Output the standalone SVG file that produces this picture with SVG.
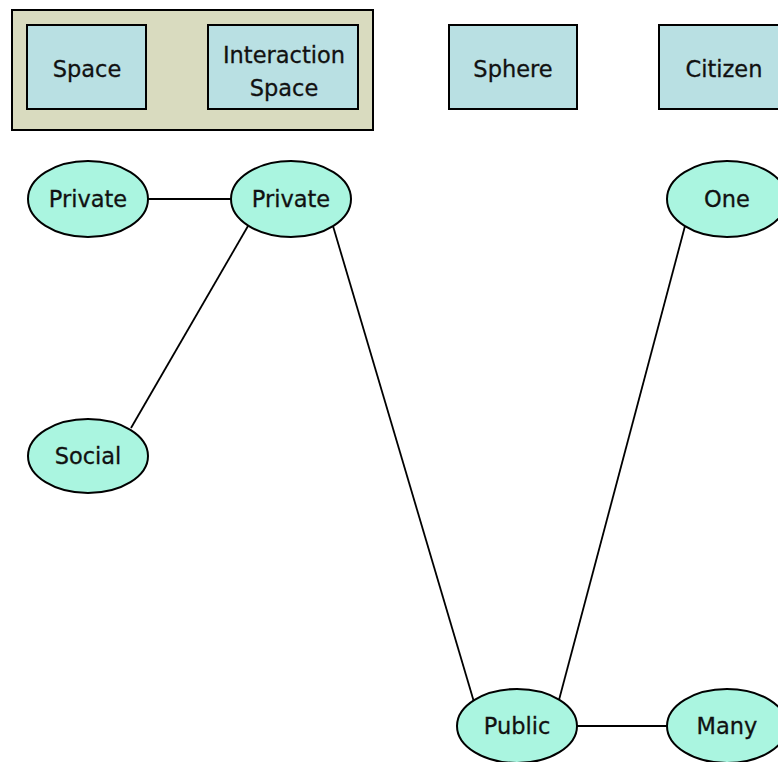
<svg xmlns="http://www.w3.org/2000/svg" width="778" height="762" viewBox="0 0 778 762">
<style>
.box{fill:#b9e0e3;stroke:#000;stroke-width:2}
.ell{fill:#aaf5e0;stroke:#000;stroke-width:2}
.t{font-family:"DejaVu Sans","Verdana","Liberation Sans",sans-serif;font-size:22.5px;fill:#111;text-anchor:middle;stroke:#111;stroke-width:0.3}
.c{stroke:#000;stroke-width:1.8;fill:none}
</style>
<rect x="0" y="0" width="778" height="762" fill="#fff"/>
<g id="group-frame"><rect x="12" y="10" width="361" height="120" fill="#d9dbbf" stroke="#000" stroke-width="2"/></g>
<g id="connectors">
<line class="c" x1="148" y1="199" x2="231" y2="199"/>
<line class="c" x1="248" y1="226" x2="131" y2="428"/>
<line class="c" x1="333" y1="226" x2="474" y2="702"/>
<line class="c" x1="559" y1="700" x2="685" y2="226"/>
<line class="c" x1="577" y1="726" x2="667" y2="726"/>
</g>
<g id="space"><rect class="box" x="27" y="25" width="119" height="84"/><text class="t" x="87" y="77">Space</text></g>
<g id="interaction-space"><rect class="box" x="208" y="25" width="150" height="84"/><text class="t" x="284" y="63">Interaction</text><text class="t" x="284" y="96">Space</text></g>
<g id="sphere"><rect class="box" x="449" y="25" width="128" height="84"/><text class="t" x="513" y="77">Sphere</text></g>
<g id="citizen"><rect class="box" x="659" y="25" width="130" height="84"/><text class="t" x="724" y="77">Citizen</text></g>
<g id="private1"><ellipse class="ell" cx="88" cy="199" rx="60" ry="38"/><text class="t" x="88" y="207">Private</text></g>
<g id="private2"><ellipse class="ell" cx="291" cy="199" rx="60" ry="38"/><text class="t" x="291" y="207">Private</text></g>
<g id="one"><ellipse class="ell" cx="727" cy="199" rx="60" ry="38"/><text class="t" x="727" y="207">One</text></g>
<g id="social"><ellipse class="ell" cx="88" cy="456" rx="60" ry="37"/><text class="t" x="88" y="464">Social</text></g>
<g id="public"><ellipse class="ell" cx="517" cy="726" rx="60" ry="37"/><text class="t" x="517" y="734">Public</text></g>
<g id="many"><ellipse class="ell" cx="727" cy="726" rx="60" ry="37"/><text class="t" x="727" y="734">Many</text></g>
</svg>
